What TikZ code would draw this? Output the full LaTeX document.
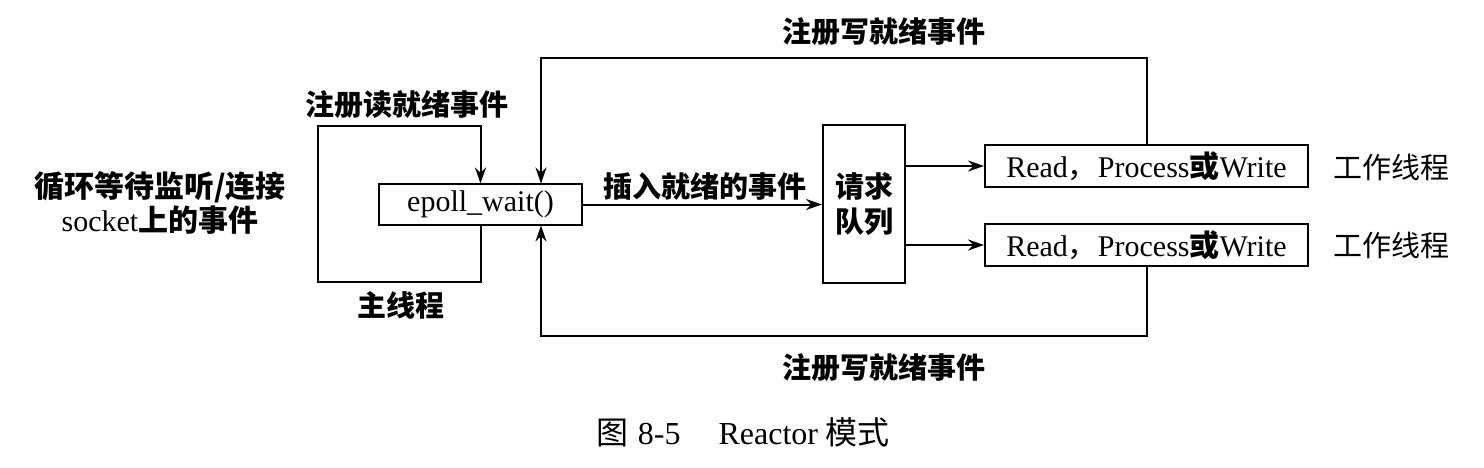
\documentclass[tikz,border=0pt]{standalone}
\usepackage{fontspec}
\setmainfont{Liberation Serif}
\newfontfamily\cjk{Noto Sans CJK SC}
\usetikzlibrary{arrows.meta}
\tikzset{
  box/.style={draw, line width=2pt, inner sep=0pt, font=\fontsize{30}{34}\selectfont},
  lbl/.style={font=\cjk\bfseries\fontsize{29}{35}\selectfont, inner sep=0pt},
  wlbl/.style={font=\cjk\fontsize{29}{35}\selectfont, inner sep=0pt},
  arr/.style={line width=2pt, -{Stealth[length=16pt,width=11pt]}},
}
\begin{document}
\begin{tikzpicture}[x=1pt,y=-1pt]
\fill[white] (0,0) rectangle (1484,468);
\useasboundingbox (0,0) rectangle (1484,468);

% nodes
\node[box, minimum width=203pt, minimum height=40pt] (ep) at (480.5,204.5) {epoll\_wait()};
\node[box, minimum width=82pt, minimum height=158pt, align=center, font=\cjk\bfseries\fontsize{29}{35}\selectfont] (q) at (864,204) {请求\\队列};
\node[box, minimum width=323pt, minimum height=42pt] (r1) at (1146.5,166) {Read{\cjk ，}Process{\cjk\bfseries 或}Write};
\node[box, minimum width=323pt, minimum height=42pt] (r2) at (1146.5,245) {Read{\cjk ，}Process{\cjk\bfseries 或}Write};

% labels
\node[lbl] (wtop) at (884,32) {注册写就绪事件};
\node[lbl] (wbot) at (884,368) {注册写就绪事件};
\node[lbl] (rd) at (407,105) {注册读就绪事件};
\node[lbl] (mt) at (401,305) {主线程};
\node[lbl] (ins) at (705,186) {插入就绪的事件};
\node[wlbl] (w1) at (1391,167) {工作线程};
\node[wlbl] (w2) at (1391,245) {工作线程};
\node[inner sep=0pt, align=center, font=\fontsize{30}{34}\selectfont] (loop) at (160,203)
  {{\cjk\bfseries 循环等待监听/连接}\\socket{\cjk\bfseries 上的事件}};
\node[inner sep=0pt, font=\fontsize{32}{36}\selectfont] (cap) at (743,432)
  {{\cjk 图}\hspace{9pt}8-5\hspace{38pt}Reactor\hspace{7pt}{\cjk 模式}};

% coordinates
\coordinate (tl) at (541,58);
\coordinate (bl) at (541,336);
\coordinate (lt) at (318,126);
\coordinate (lb) at (318,282);

% connectors
\draw[arr] (ep.east) -- (q.west |- ep.east);
\draw[arr] (q.east |- r1.west) -- (r1.west);
\draw[arr] (q.east |- r2.west) -- (r2.west);
\draw[arr] (r1.north) |- (tl) -- (ep.north -| tl);
\draw[arr] (r2.south) |- (bl) -- (ep.south -| bl);
\draw[arr] (ep.south) |- (lb) -- (lt) -| (ep.north);
\end{tikzpicture}
\end{document}
